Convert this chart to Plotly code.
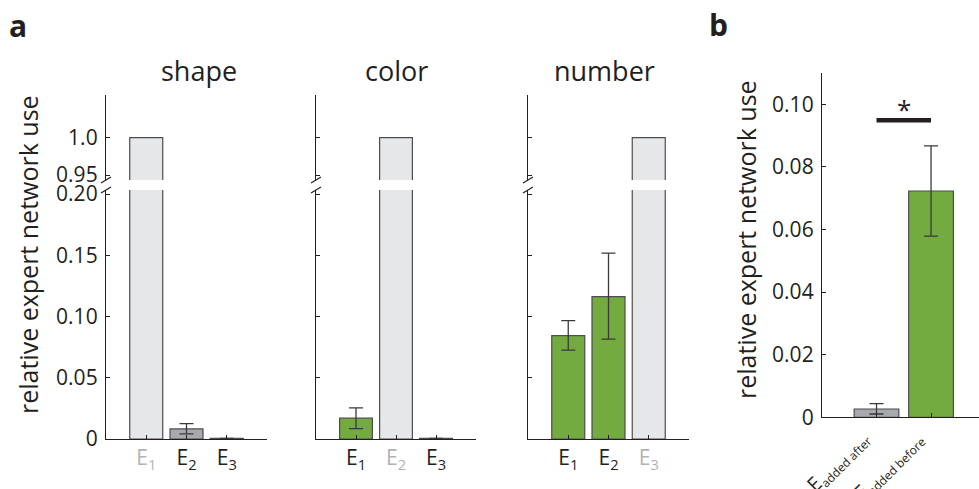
import plotly.graph_objects as go

W, H = 979, 489
FONT = "Open Sans"
INK = "#231f20"
LIGHT = "#e6e7e8"
GRAY = "#a7a9ac"
GREEN = "#74ab41"
EDGE = "#4d4d4f"

# ---------------- data ----------------
experts = ["E<sub>1</sub>", "E<sub>2</sub>", "E<sub>3</sub>"]
panel_titles = ["shape", "color", "number"]

shape_vals = [1.0, 0.0082, 0.0005]
shape_err_plus = [None, 0.0043, None]
shape_err_minus = [None, 0.0040, None]

color_vals = [0.0170, 1.0, 0.0005]
color_err_plus = [0.0084, None, None]
color_err_minus = [0.0086, None, None]

number_vals = [0.0844, 0.1163, 1.0]
number_err_plus = [0.0123, 0.0354, None]
number_err_minus = [0.0119, 0.0348, None]

own_expert = [0, 1, 2]  # index of the expert trained on that feature (light gray)

b_labels = ["E<sub><span style='font-size:12px'>added after</span></sub>",
            "E<sub><span style='font-size:12px'>added before</span></sub>"]
b_vals = [0.00265, 0.0723]
b_err_plus = [0.0017, 0.0144]
b_err_minus = [0.0016, 0.0144]

lower_ticks = [0, 0.05, 0.10, 0.15, 0.20]
lower_ticktext = ["0", "0.05", "0.10", "0.15", "0.20"]
upper_ticks = [0.95, 1.0]
upper_ticktext = ["0.95", "1.0"]
b_ticks = [0, 0.02, 0.04, 0.06, 0.08, 0.10]
b_ticktext = ["0", "0.02", "0.04", "0.06", "0.08", "0.10"]

# ---------------- layout geometry (pixels) ----------------
def px_x(p):
    return p / W

def px_y(p):
    return 1 - p / H

panel_x = [(106, 267), (316, 476), (528, 689)]
lower_dom = [px_y(439), px_y(190)]
upper_dom = [px_y(180), px_y(95)]
lower_range = [0, 0.2033]
upper_range = [0.9433, 1.0572]
b_xdom = [px_x(822), 1.0]
b_ydom = [px_y(417.3), px_y(73)]

fig = go.Figure()
layout = dict(
    width=W, height=H, autosize=False,
    margin=dict(l=0, r=0, t=0, b=0, autoexpand=False),
    paper_bgcolor="white", plot_bgcolor="rgba(0,0,0,0)",
    showlegend=False,
    font=dict(family=FONT, color=INK, size=19),
)

all_vals = [shape_vals, color_vals, number_vals]
all_ep = [shape_err_plus, color_err_plus, number_err_plus]
all_em = [shape_err_minus, color_err_minus, number_err_minus]

shapes = []
annotations = []
TICKF = dict(size=21, family=FONT, color=INK)

for i in range(3):
    xa = f"x{i + 1}" if i else "x"
    xname = f"xaxis{i + 1}" if i else "xaxis"
    ylo = f"y{2 * i + 1}" if i else "y"
    yloname = f"yaxis{2 * i + 1}" if i else "yaxis"
    yup = f"y{2 * i + 2}"
    yupname = f"yaxis{2 * i + 2}"
    vals = all_vals[i]
    colors = []
    for j in range(3):
        if j == own_expert[i]:
            colors.append(LIGHT)
        else:
            colors.append(GRAY if i == 0 else GREEN)
    xs = [1, 2, 3]
    fig.add_trace(go.Bar(
        x=xs, y=vals, xaxis=xa, yaxis=ylo, width=0.82,
        marker=dict(color=colors, line=dict(color=EDGE, width=1.2)),
        error_y=dict(type="data", symmetric=False, array=all_ep[i],
                     arrayminus=all_em[i], color="#3a3a3a", thickness=1.3, width=7),
    ))
    fig.add_trace(go.Bar(
        x=xs, y=vals, xaxis=xa, yaxis=yup, width=0.82,
        marker=dict(color=colors, line=dict(color=EDGE, width=1.2)),
    ))
    ticktext = []
    for j in range(3):
        if j == own_expert[i]:
            ticktext.append(f"<span style='color:#b1b3b6'>{experts[j]}</span>")
        else:
            ticktext.append(experts[j])
    layout[xname] = dict(
        domain=[px_x(panel_x[i][0]), px_x(panel_x[i][1])], range=[0, 4],
        anchor=ylo, showline=True, linecolor=INK, linewidth=1.3,
        ticks="inside", ticklen=4, tickcolor=INK, tickwidth=1,
        tickvals=xs, ticktext=ticktext, showgrid=False, zeroline=False,
        tickfont=dict(size=21, family=FONT, color=INK), fixedrange=True,
        automargin=False,
    )
    show = (i == 0)
    layout[yloname] = dict(
        domain=lower_dom, range=lower_range, anchor=xa,
        showline=True, linecolor=INK, linewidth=1.3,
        ticks="inside", ticklen=4, tickcolor=INK, tickwidth=1,
        tickvals=lower_ticks, ticktext=lower_ticktext, showticklabels=show,
        showgrid=False, zeroline=False, ticklabelstandoff=3,
        tickfont=TICKF, automargin=False,
    )
    layout[yupname] = dict(
        domain=upper_dom, range=upper_range, anchor=xa,
        showline=True, linecolor=INK, linewidth=1.3,
        ticks="inside", ticklen=4, tickcolor=INK, tickwidth=1,
        tickvals=upper_ticks, ticktext=upper_ticktext, showticklabels=show,
        showgrid=False, zeroline=False, ticklabelstandoff=3,
        tickfont=TICKF, automargin=False,
    )
    # break marks
    for yref, anchor in ((f"{yup} domain", 0), (f"{ylo} domain", 1)):
        shapes.append(dict(
            type="line", xref=f"{xa} domain", yref=yref,
            xsizemode="pixel", xanchor=0, x0=-5, x1=5,
            ysizemode="pixel", yanchor=anchor, y0=-3, y1=3,
            line=dict(color=INK, width=1.3),
        ))
    annotations.append(dict(
        text=panel_titles[i], xref="paper", yref="paper",
        x=px_x([199, 396, 604][i]), y=px_y(70), showarrow=False,
        xanchor="center", yanchor="middle", font=dict(size=27, family=FONT, color=INK),
    ))

# panel b
bx = [1, 2]
fig.add_trace(go.Bar(
    x=bx, y=b_vals, xaxis="x4", yaxis="y7", width=0.82,
    marker=dict(color=[GRAY, GREEN], line=dict(color=EDGE, width=1.2)),
    error_y=dict(type="data", symmetric=False, array=b_err_plus,
                 arrayminus=b_err_minus, color="#3a3a3a", thickness=1.3, width=7),
))
layout["xaxis4"] = dict(
    domain=b_xdom, range=[0, 2.88], anchor="y7",
    showline=True, linecolor=INK, linewidth=1.3,
    ticks="inside", ticklen=4, tickcolor=INK, tickwidth=1,
    tickvals=bx, showticklabels=False,
    showgrid=False, zeroline=False, automargin=False,
)
layout["yaxis7"] = dict(
    domain=b_ydom, range=[0, 0.110], anchor="x4",
    showline=True, linecolor=INK, linewidth=1.3,
    ticks="inside", ticklen=4, tickcolor=INK, tickwidth=1,
    tickvals=b_ticks, ticktext=b_ticktext, ticklabelstandoff=3,
    showgrid=False, zeroline=False, tickfont=TICKF, automargin=False,
)
# rotated category labels under the bars of panel b
for xv, lab in zip(bx, b_labels):
    annotations.append(dict(
        text=lab, xref="x4", yref="y7 domain", x=xv, y=0,
        xanchor="right", yanchor="top", textangle=-45, showarrow=False,
        xshift=0, yshift=-6, borderpad=0,
        font=dict(size=20, family=FONT, color=INK),
    ))

sig_y = 0.0949
shapes.append(dict(type="line", xref="x4", yref="y7", x0=bx[0], x1=bx[1],
                   y0=sig_y, y1=sig_y, line=dict(color=INK, width=4.5)))
annotations.append(dict(text="*", xref="x4", yref="y7", x=(bx[0] + bx[1]) / 2,
                        y=sig_y, yshift=-9, yanchor="bottom", xanchor="center",
                        showarrow=False, font=dict(size=26, family=FONT, color=INK)))

# y titles and panel letters
for tx, ty in ((28, 255), (746, 240)):
    annotations.append(dict(text="relative expert network use", xref="paper", yref="paper",
                            x=px_x(tx), y=px_y(ty), textangle=-90, showarrow=False,
                            xanchor="center", yanchor="middle",
                            font=dict(size=25, family=FONT, color=INK)))
for letter, lx, ly in (("a", 18, 25), ("b", 718, 24)):
    annotations.append(dict(text=f"<b>{letter}</b>", xref="paper", yref="paper",
                            x=px_x(lx), y=px_y(ly), showarrow=False,
                            xanchor="center", yanchor="middle",
                            font=dict(size=30, family=FONT, color=INK)))

layout["shapes"] = shapes
layout["annotations"] = annotations
fig.update_layout(**layout)
fig.write_html("out.html", config={"displayModeBar": False},
               post_script="document.body.style.margin='0px';document.body.style.overflow='hidden';")
